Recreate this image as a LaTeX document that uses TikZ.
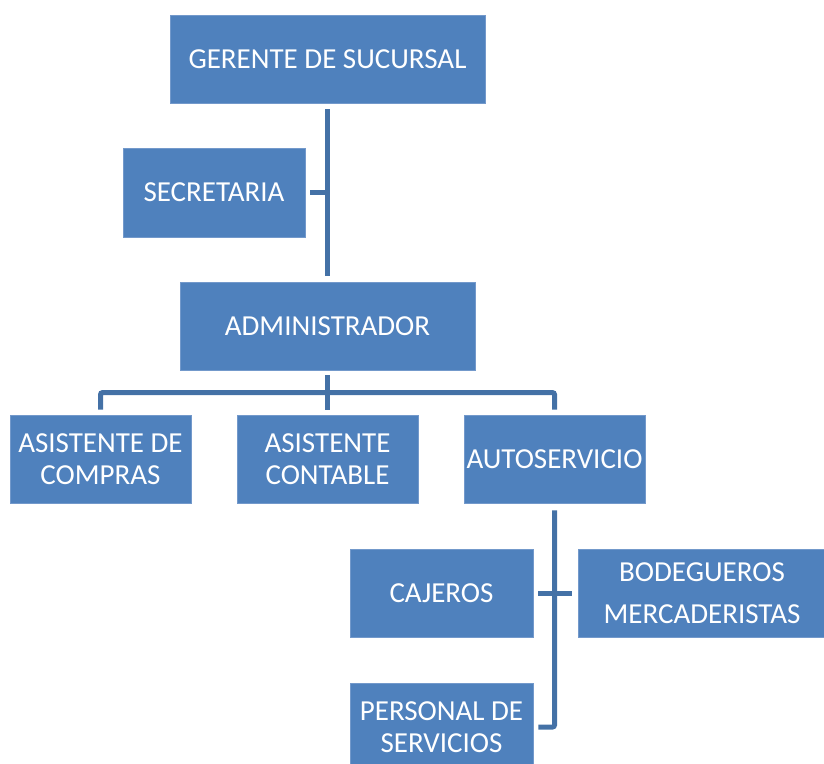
\documentclass[tikz,border=0pt]{standalone}
\usepackage{fontspec}
\setmainfont{Carlito}
\definecolor{boxblue}{HTML}{4F81BD}
\definecolor{boxedge}{HTML}{7399CB}
\definecolor{linkblue}{HTML}{4471A6}
\tikzset{
  orgbox/.style={rectangle, fill=boxblue, draw=boxedge, line width=0.8pt, text=white,
    align=center, inner sep=0pt, font=\fontsize{29}{31.5}\selectfont},
  link/.style={draw=linkblue, line width=5pt}
}
\begin{document}
\begin{tikzpicture}[x=1pt,y=-1pt]
\useasboundingbox (0,0) rectangle (824,763);
\node[orgbox, minimum width=315pt, minimum height=88pt] (ger) at (327.5,59) {GERENTE DE SUCURSAL};
\node[orgbox, minimum width=182pt, minimum height=89pt] (sec) at (214,192.5) {SECRETARIA};
\node[orgbox, minimum width=295pt, minimum height=88pt] (adm) at (327.5,326) {ADMINISTRADOR};
\node[orgbox, minimum width=181pt, minimum height=88pt] (comp) at (100.5,459) {ASISTENTE DE\\COMPRAS};
\node[orgbox, minimum width=181pt, minimum height=88pt] (cont) at (327.5,459) {ASISTENTE\\CONTABLE};
\node[orgbox, minimum width=181pt, minimum height=88pt] (auto) at (554.5,459) {AUTOSERVICIO};
\node[orgbox, minimum width=183pt, minimum height=88pt] (caj) at (441.5,593) {CAJEROS};
\node[orgbox, minimum width=248pt, minimum height=88pt] (bod) at (702,593) {BODEGUEROS\\[11pt]MERCADERISTAS};
\node[orgbox, minimum width=183pt, minimum height=88pt] (pers) at (441.5,727) {PERSONAL DE\\SERVICIOS};

\draw[link] ([yshift=-6pt]ger.south) -- ([yshift=6pt]adm.north);
\draw[link] ([xshift=5pt]sec.east) -- (sec.east -| ger.south);
\draw[link] ([yshift=-5pt]adm.south) -- ([yshift=5pt]cont.north);
\draw[link, rounded corners=2pt] ([yshift=5pt]comp.north) |- ([yshift=22pt]auto.north) -- ([yshift=5pt]auto.north);
\draw[link, rounded corners=2pt] ([yshift=-7pt]auto.south) |- ([xshift=5pt]pers.east);
\draw[link] ([xshift=5pt]caj.east) -- ([xshift=-6pt]bod.west);
\end{tikzpicture}
\end{document}
